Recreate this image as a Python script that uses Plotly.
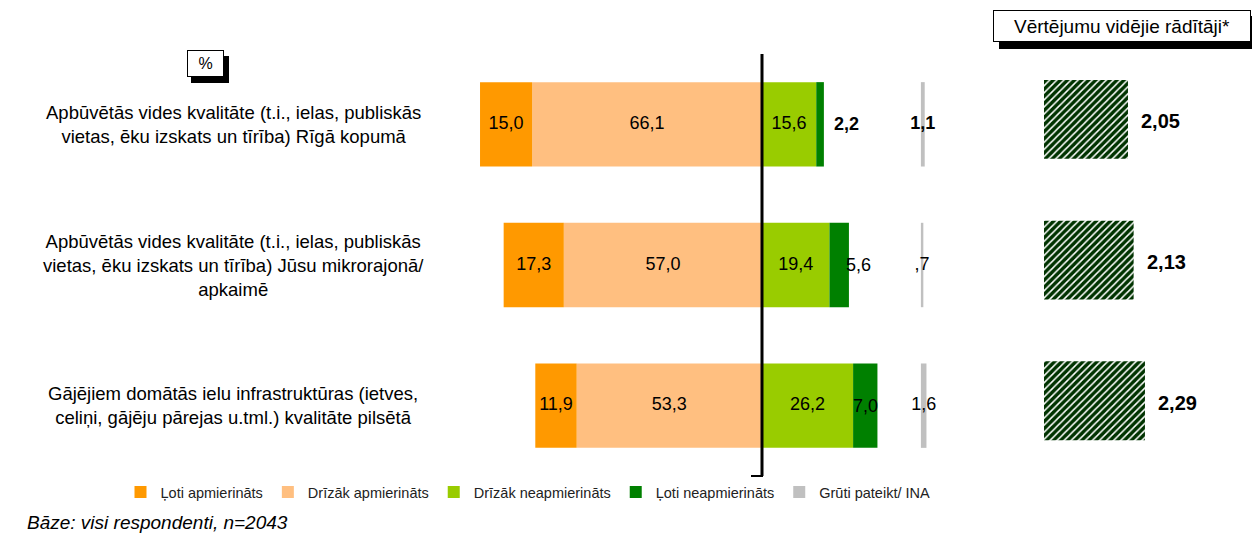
import plotly.graph_objects as go

# ---------------- data ----------------
categories = [
    "Apbūvētās vides kvalitāte (t.i., ielas, publiskās<br>vietas, ēku izskats un tīrība) Rīgā kopumā",
    "Apbūvētās vides kvalitāte (t.i., ielas, publiskās<br>vietas, ēku izskats un tīrība) Jūsu mikrorajonā/<br>apkaimē",
    "Gājējiem domātās ielu infrastruktūras (ietves,<br>celiņi, gājēju pārejas u.tml.) kvalitāte pilsētā",
]
series_names = ["Ļoti apmierināts", "Drīzāk apmierināts", "Drīzāk neapmierināts",
                "Ļoti neapmierināts", "Grūti pateikt/ INA"]
loti_apmierinats = [15.0, 17.3, 11.9]
drizak_apmierinats = [66.1, 57.0, 53.3]
drizak_neapmierinats = [15.6, 19.4, 26.2]
loti_neapmierinats = [2.2, 5.6, 7.0]
gruti_pateikt = [1.1, 0.7, 1.6]
videjie_raditaji = [2.05, 2.13, 2.29]

header_text = "Vērtējumu vidējie rādītāji*"
unit_text = "%"
base_text = "<i>Bāze: visi respondenti, n=2043</i>"

# ---------------- styling / layout ----------------
colors = ["#FF9900", "#FFBF80", "#99CC00", "#008000", "#C0C0C0"]
hatch_color = "#003300"
FONT = "Liberation Sans, Arial, sans-serif"
OFF = 8                        # page body margin
W, H = 1260 - OFF, 538 - OFF
TOP, BOTTOM = 54, 476          # plot area in reference pixels (y)
ZERO_PX, PX_PER_UNIT = 762, 3.477
MAIN_DOM = (440, 990)
AVG_DOM = (1044, 1250)
AVG_START, AVG_PX_PER_UNIT = 0.864, 70.8
GRUTI_BASE = 45.7


def px2x(px):
    return (px - OFF) / W


def px2y(py):
    return (BOTTOM - py) / (BOTTOM - TOP)


def fmt(v, nd=1):
    s = f"{v:.{nd}f}".replace(".", ",")
    if s.startswith("0,"):
        s = s[1:]
    return s


main_range = [(MAIN_DOM[0] - ZERO_PX) / PX_PER_UNIT, (MAIN_DOM[1] - ZERO_PX) / PX_PER_UNIT]
avg_range = [AVG_START, AVG_START + (AVG_DOM[1] - AVG_DOM[0]) / AVG_PX_PER_UNIT]

fig = go.Figure()
BW = 0.60

# negative side (closest to the centre first)
fig.add_trace(go.Bar(y=categories, x=[-v for v in drizak_apmierinats], orientation="h",
                     name=series_names[1], marker=dict(color=colors[1], line=dict(width=0)),
                     width=BW, legendrank=2, hoverinfo="skip"))
fig.add_trace(go.Bar(y=categories, x=[-v for v in loti_apmierinats], orientation="h",
                     name=series_names[0], marker=dict(color=colors[0], line=dict(width=0)),
                     width=BW, legendrank=1, hoverinfo="skip"))
# positive side
fig.add_trace(go.Bar(y=categories, x=drizak_neapmierinats, orientation="h",
                     name=series_names[2], marker=dict(color=colors[2], line=dict(width=0)),
                     width=BW, legendrank=3, hoverinfo="skip"))
fig.add_trace(go.Bar(y=categories, x=loti_neapmierinats, orientation="h",
                     name=series_names[3], marker=dict(color=colors[3], line=dict(width=0)),
                     width=BW, legendrank=4, hoverinfo="skip"))
# don't know
fig.add_trace(go.Bar(y=categories, x=gruti_pateikt, base=[GRUTI_BASE] * 3, orientation="h",
                     name=series_names[4], marker=dict(color=colors[4], line=dict(width=0)),
                     width=BW, legendrank=5, hoverinfo="skip"))

# data labels
lab_font = dict(family=FONT, size=18, color="black")
cx_la = [-(d + l / 2) for d, l in zip(drizak_apmierinats, loti_apmierinats)]
cx_da = [-d / 2 for d in drizak_apmierinats]
cx_dn = [d / 2 for d in drizak_neapmierinats]
end_ln = [d + l for d, l in zip(drizak_neapmierinats, loti_neapmierinats)]
mid_ln = [d + l / 2 for d, l in zip(drizak_neapmierinats, loti_neapmierinats)]
cx_gr = [GRUTI_BASE + g / 2 for g in gruti_pateikt]

for xs, vals in [(cx_la, loti_apmierinats), (cx_da, drizak_apmierinats), (cx_dn, drizak_neapmierinats)]:
    fig.add_trace(go.Scatter(x=xs, y=categories, mode="text", text=[fmt(v) for v in vals],
                             textposition="middle center", textfont=lab_font,
                             showlegend=False, hoverinfo="skip", cliponaxis=False))

gr_txt = ["<b>" + fmt(gruti_pateikt[0]) + "</b>", fmt(gruti_pateikt[1]), fmt(gruti_pateikt[2])]
fig.add_trace(go.Scatter(x=cx_gr, y=categories, mode="text", text=gr_txt, textposition="middle center",
                         textfont=lab_font, showlegend=False, hoverinfo="skip", cliponaxis=False))

# average scores (hatched)
fig.add_trace(go.Bar(y=categories, x=videjie_raditaji, orientation="h", xaxis="x2", yaxis="y",
                     width=0.56, offset=-0.315,
                     marker=dict(color="white", line=dict(width=0),
                                 pattern=dict(shape="/", fgcolor=hatch_color, bgcolor="white",
                                              size=5, solidity=0.7, fillmode="replace")),
                     showlegend=False, hoverinfo="skip"))

annotations = []
# average score labels
for v, c in zip(videjie_raditaji, categories):
    annotations.append(dict(x=v, y=c, xref="x2", yref="y", text="<b>" + fmt(v, 2) + "</b>",
                            showarrow=False, xanchor="left", xshift=11, yshift=3, yanchor="middle",
                            font=dict(family=FONT, size=20, color="black")))
# dark-green labels (small segments, placed at / after the bar end)
ln_specs = [("<b>" + fmt(loti_neapmierinats[0]) + "</b>", end_ln[0], "left", 8),
            (fmt(loti_neapmierinats[1]), end_ln[1], "left", -5),
            (fmt(loti_neapmierinats[2]), mid_ln[2], "center", 0)]
for (t, xv, anc, sh), c in zip(ln_specs, categories):
    annotations.append(dict(x=xv, y=c, xref="x", yref="y", text=t, showarrow=False,
                            xanchor=anc, xshift=sh, yanchor="middle", font=lab_font))

# category labels
for c in categories:
    annotations.append(dict(x=px2x(233), xref="paper", y=c, yref="y", text=c, showarrow=False,
                            xanchor="center", yanchor="middle", align="center",
                            font=dict(family=FONT, size=18.5, color="black")))
# boxes
annotations.append(dict(x=px2x(205), y=px2y(63), xref="paper", yref="paper", text=unit_text,
                        showarrow=False, xanchor="center", yanchor="middle", width=35, height=25,
                        bgcolor="white", bordercolor="black", borderwidth=1, borderpad=0,
                        font=dict(family=FONT, size=16, color="black")))
annotations.append(dict(x=px2x(1122), y=px2y(26), xref="paper", yref="paper", text=header_text,
                        showarrow=False, xanchor="center", yanchor="middle", width=256, height=30,
                        bgcolor="white", bordercolor="black", borderwidth=1, borderpad=0,
                        font=dict(family=FONT, size=19, color="black")))
annotations.append(dict(x=px2x(25), y=px2y(522), xref="paper", yref="paper", text=base_text,
                        showarrow=False, xanchor="left", yanchor="middle",
                        font=dict(family=FONT, size=19, color="black")))

shapes = [
    # shadows
    dict(type="rect", xref="paper", yref="paper", x0=px2x(191), x1=px2x(229), y0=px2y(56), y1=px2y(83),
         fillcolor="black", line=dict(width=0), layer="above"),
    dict(type="rect", xref="paper", yref="paper", x0=px2x(999), x1=px2x(1260), y0=px2y(16), y1=px2y(49),
         fillcolor="black", line=dict(width=0), layer="above"),
    # centre line
    dict(type="line", xref="x", yref="paper", x0=0, x1=0, y0=0, y1=1,
         line=dict(color="black", width=3), layer="above"),
    dict(type="line", xref="paper", yref="paper", x0=px2x(751), x1=px2x(763), y0=0, y1=0,
         line=dict(color="black", width=2), layer="above"),
]

fig.update_layout(
    width=W, height=H,
    margin=dict(l=0, r=0, t=TOP - OFF, b=H - (BOTTOM - OFF), pad=0),
    paper_bgcolor="white", plot_bgcolor="white",
    barmode="relative", bargap=0.4,
    showlegend=True,
    legend=dict(orientation="h", x=px2x(528), xanchor="center", y=px2y(492), yanchor="middle",
                font=dict(family=FONT, size=14.5, color="#222222"), bgcolor="rgba(0,0,0,0)",
                itemwidth=30, traceorder="normal"),
    xaxis=dict(domain=[px2x(MAIN_DOM[0]), px2x(MAIN_DOM[1])], range=main_range, visible=True,
               showgrid=False, zeroline=False, showticklabels=False, ticks="", showline=False,
               fixedrange=True),
    xaxis2=dict(domain=[px2x(AVG_DOM[0]), px2x(AVG_DOM[1])], range=avg_range, anchor="y",
                showgrid=False, zeroline=False, showticklabels=False, ticks="", showline=False,
                fixedrange=True),
    yaxis=dict(domain=[0, 1], range=[2.5, -0.5], type="category", showgrid=False, zeroline=False,
               showticklabels=False, ticks="", showline=False, fixedrange=True),
    annotations=annotations,
    shapes=shapes,
    font=dict(family=FONT),
)

fig.write_html("out.html")
